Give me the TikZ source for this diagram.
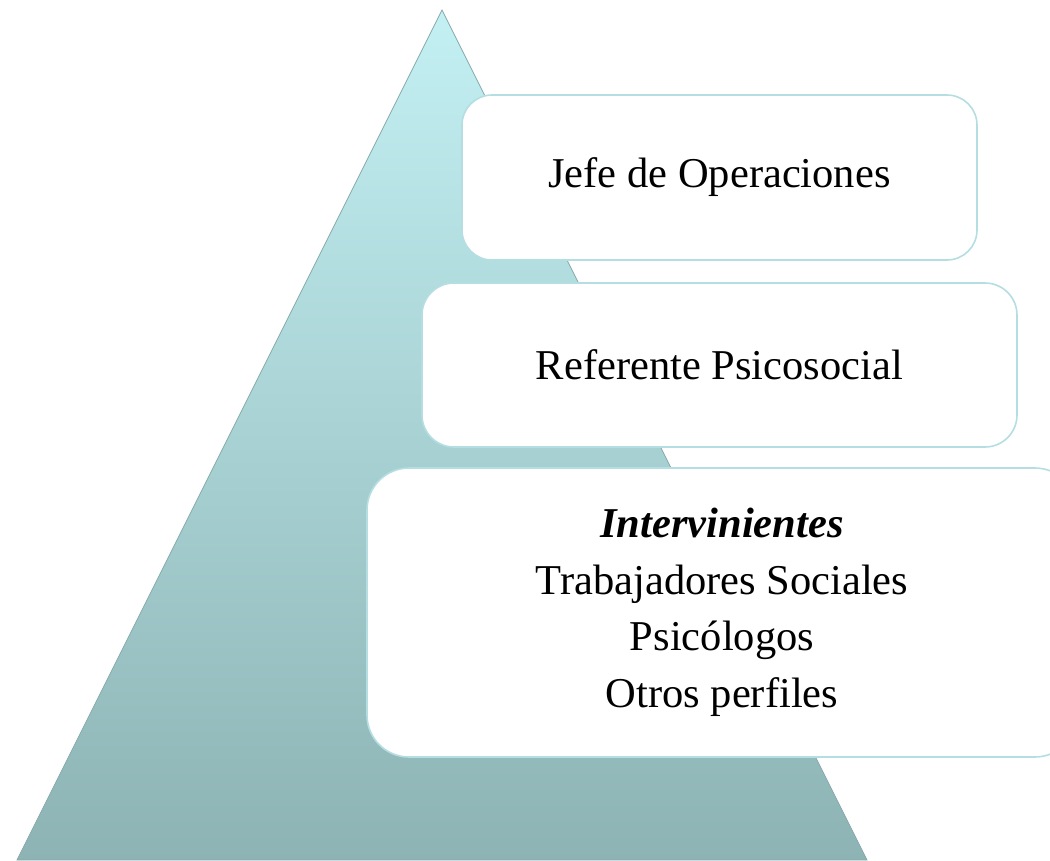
\documentclass[tikz,border=0pt]{standalone}
\usepackage{fontspec}
\setmainfont{Liberation Serif}
\definecolor{pyrtop}{HTML}{C3F0F3}
\definecolor{pyrbot}{HTML}{8DB3B4}
\definecolor{pyredge}{HTML}{86A9AB}
\definecolor{boxline}{HTML}{B5DEE2}
\tikzset{
  level/.style={draw=boxline, line width=1.6pt, fill=white, align=center,
    inner sep=0pt, font=\fontsize{42.5}{56.5}\selectfont}
}
\begin{document}
\begin{tikzpicture}[x=1pt,y=-1pt]
    \useasboundingbox (0,0) rectangle (1050,860);
    \clip (0,0) rectangle (1050,860);
    % pyramid
    \shade[top color=pyrtop, bottom color=pyrbot, draw=pyredge, line width=0.8pt]
      (442,10) coordinate (apex) -- (867,860) coordinate (right) -- (17,860) coordinate (left) -- cycle;
    % levels
    \foreach \n/\x/\y/\w/\h/\r/\t in {ops/719.5/177.5/515/165/30/{Jefe de Operaciones},%
    ref/719.5/365/595/164/32/{Referente Psicosocial},%
    int/722/612.5/710/289/42/{\textbf{\textit{Intervinientes}}\\Trabajadores Sociales\\Psicólogos\\Otros perfiles}}
    {
    \node[level, rounded corners=\r pt, minimum width=\w pt, minimum height=\h pt] (\n) at (\x,\y) {\t};
    }
\end{tikzpicture}
\end{document}
